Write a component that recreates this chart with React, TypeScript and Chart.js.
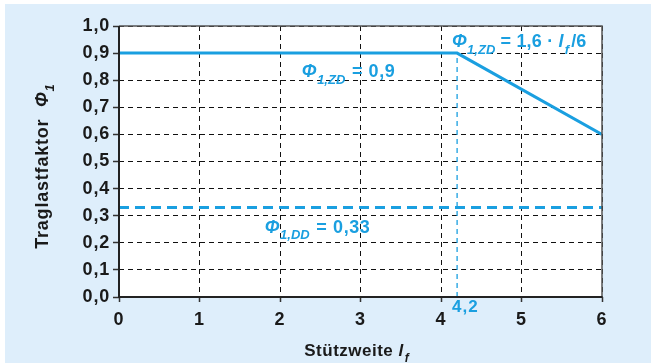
import React, { useEffect, useRef } from "react";
import { Chart, registerables } from "chart.js";

Chart.register(...registerables);

const xTicks = [0, 1, 2, 3, 4, 5, 6];
const yTicks = [0, 0.1, 0.2, 0.3, 0.4, 0.5, 0.6, 0.7, 0.8, 0.9, 1.0];
const zdX = [0, 4.2, 6];
const zdY = [0.9, 0.9, 0.6];
const ddX = [0, 6];
const ddY = [0.33, 0.33];
const markX = [4.2, 4.2];
const markY = [0, 0.9];

const BLUE = "#1a9fe0";
const BG = "#deeefb";
const FONT = "'Liberation Sans', Arial, sans-serif";

type Part = { t: string; it?: boolean; sub?: boolean; size?: number; gap?: number };

function setFont(ctx: CanvasRenderingContext2D, p: Part, base: number, ls: number) {
  const size = p.size ?? (p.sub ? Math.round(base * 0.7) : base);
  ctx.font = `${p.it ? "italic " : ""}bold ${size}px ${FONT}`;
  (ctx as any).letterSpacing = p.sub ? "0px" : `${ls}px`;
}

function drawRich(ctx: CanvasRenderingContext2D, x: number, y: number, parts: Part[], color: string, base = 18, ls = 0.2) {
  let cx = x;
  ctx.save();
  ctx.fillStyle = color;
  ctx.textBaseline = "alphabetic";
  ctx.textAlign = "left";
  for (const p of parts) {
    setFont(ctx, p, base, ls);
    const yy = p.sub ? y + base * 0.36 : y;
    ctx.fillText(p.t, cx, yy);
    cx += ctx.measureText(p.t).width + (p.gap ?? 0);
  }
  ctx.restore();
  return cx - x;
}

function measureRich(ctx: CanvasRenderingContext2D, parts: Part[], base = 18, ls = 0.2) {
  let w = 0;
  ctx.save();
  for (const p of parts) {
    setFont(ctx, p, base, ls);
    w += ctx.measureText(p.t).width + (p.gap ?? 0);
  }
  ctx.restore();
  return w;
}

const decorPlugin = {
  id: "decor",
  beforeDraw(chart: any) {
    const { ctx, chartArea: a, width, height } = chart;
    ctx.save();
    ctx.fillStyle = "#ffffff";
    ctx.fillRect(0, 0, width, height);
    ctx.fillStyle = BG;
    ctx.fillRect(5, 4, width - 5, height - 4);
    ctx.fillStyle = "#ffffff";
    ctx.fillRect(a.left, a.top, a.right - a.left, a.bottom - a.top);
    ctx.restore();
    (ctx as any).letterSpacing = "0.8px";
  },
  afterDraw(chart: any) {
    const { ctx, chartArea: a, scales } = chart;
    const xs = scales.x;
    const ys = scales.y;
    ctx.save();
    ctx.strokeStyle = "#555555";
    ctx.lineWidth = 1.5;
    ctx.beginPath();
    ctx.moveTo(a.left, a.top);
    ctx.lineTo(a.right, a.top);
    ctx.lineTo(a.right, a.bottom);
    ctx.stroke();
    ctx.strokeStyle = "#222222";
    ctx.lineWidth = 2;
    ctx.beginPath();
    ctx.moveTo(a.left, a.top);
    ctx.lineTo(a.left, a.bottom);
    ctx.lineTo(a.right, a.bottom);
    ctx.stroke();
    ctx.restore();

    const px42 = xs.getPixelForValue(4.2);
    const py09 = ys.getPixelForValue(0.9);
    const py033 = ys.getPixelForValue(0.33);

    drawRich(ctx, px42 - 5, py09 - 6, [
      { t: "Φ", it: true },
      { t: "1,ZD", it: true, sub: true },
      { t: " = 1,6 · " },
      { t: "l", it: true, gap: 1 },
      { t: "f", it: true, sub: true, gap: 2 },
      { t: "/6" },
    ], BLUE);

    drawRich(ctx, xs.getPixelForValue(2.27), py09 + 24, [
      { t: "Φ", it: true },
      { t: "1,ZD", it: true, sub: true, gap: 1 },
      { t: " = 0,9" },
    ], BLUE, 18, 0.6);

    drawRich(ctx, xs.getPixelForValue(1.81), py033 + 25, [
      { t: "Φ", it: true },
      { t: "1,DD", it: true, sub: true, gap: 1 },
      { t: " = 0,33" },
    ], BLUE, 18, 0.6);

    ctx.save();
    ctx.fillStyle = BLUE;
    ctx.font = `bold 17px ${FONT}`;
    (ctx as any).letterSpacing = "1px";
    ctx.textAlign = "left";
    ctx.textBaseline = "top";
    ctx.fillText("4,2", px42 - 5, a.bottom + 2);
    ctx.restore();

    const xParts: Part[] = [
      { t: "Stützweite " },
      { t: "l", it: true, gap: 1 },
      { t: "f", it: true, sub: true },
    ];
    const xw = measureRich(ctx, xParts, 17, 0.5);
    drawRich(ctx, (a.left + a.right) / 2 - xw / 2 - 4, 356, xParts, "#1a1a1a", 17, 0.5);

    const yParts: Part[] = [
      { t: "Traglastfaktor  " },
      { t: "Φ", it: true },
      { t: "1", it: true, sub: true },
    ];
    const yw = measureRich(ctx, yParts, 18, 0.8);
    ctx.save();
    ctx.translate(48, (a.top + a.bottom) / 2 + 5);
    ctx.rotate(-Math.PI / 2);
    drawRich(ctx, -yw / 2, 0, yParts, "#1a1a1a", 18, 0.8);
    ctx.restore();
  },
};

export default function App() {
  const ref = useRef<HTMLCanvasElement | null>(null);
  useEffect(() => {
    if (!ref.current) return;
    const tickFont = { family: FONT, size: 18, weight: "bold" };
    const chart = new Chart(ref.current, {
      type: "scatter",
      data: {
        datasets: [
          {
            data: zdX.map((x, i) => ({ x, y: zdY[i] })),
            showLine: true,
            borderColor: BLUE,
            borderWidth: 3,
            pointRadius: 0,
          },
          {
            data: ddX.map((x, i) => ({ x, y: ddY[i] })),
            showLine: true,
            borderColor: BLUE,
            borderWidth: 3,
            borderDash: [10, 6],
            pointRadius: 0,
          },
          {
            data: markX.map((x, i) => ({ x, y: markY[i] })),
            showLine: true,
            borderColor: BLUE,
            borderWidth: 1.3,
            borderDash: [5, 4],
            pointRadius: 0,
          },
        ],
      },
      options: {
        responsive: false,
        animation: false,
        devicePixelRatio: 1,
        layout: { padding: { left: 0, right: 49, top: 26, bottom: 0 } },
        plugins: { legend: { display: false }, tooltip: { enabled: false } },
        scales: {
          x: {
            type: "linear",
            min: 0,
            max: 6,
            afterBuildTicks: (s: any) => {
              s.ticks = xTicks.map((v) => ({ value: v }));
            },
            afterFit: (s: any) => {
              s.height = 66;
            },
            grid: {
              color: "#111111",
              lineWidth: 1,
              tickLength: 5,
              tickColor: "#333333",
              tickWidth: 1.5,
            } as any,
            border: { display: false, dash: [5, 4] },
            ticks: {
              color: "#1a1a1a",
              font: tickFont,
              padding: 7,
              callback: (v: any) => String(v),
            },
          },
          y: {
            type: "linear",
            min: 0,
            max: 1,
            afterBuildTicks: (s: any) => {
              s.ticks = yTicks.map((v) => ({ value: v }));
            },
            afterFit: (s: any) => {
              s.width = 119;
            },
            grid: {
              color: "#111111",
              lineWidth: 1,
              tickLength: 6,
              tickColor: "#333333",
              tickWidth: 1.5,
            } as any,
            border: { display: false, dash: [5, 4] },
            ticks: {
              color: "#1a1a1a",
              font: tickFont,
              padding: 3,
              callback: (v: any) => Number(v).toFixed(1).replace(".", ","),
            },
          },
        },
      },
      plugins: [decorPlugin],
    } as any);
    return () => chart.destroy();
  }, []);
  return (
    <div style={{ position: "fixed", left: 0, top: 0, width: 651, height: 363, background: "#fff" }}>
      <canvas ref={ref} width={651} height={363} style={{ display: "block", width: 651, height: 363 }} />
    </div>
  );
}
